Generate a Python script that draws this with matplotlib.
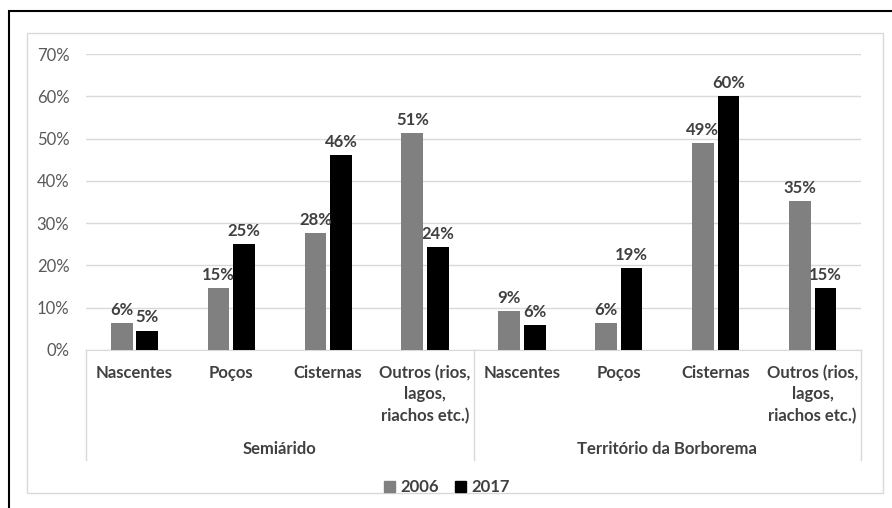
import matplotlib.pyplot as plt
import matplotlib.patches as mpatches
from matplotlib.lines import Line2D
import numpy as np

plt.rcParams['font.family'] = ['Lato', 'DejaVu Sans']

groups = ['Semiárido', 'Território da Borborema']
categories = ['Nascentes', 'Poços', 'Cisternas', 'Outros (rios,\nlagos,\nriachos etc.)']
series_names = ['2006', '2017']
values_2006 = [6.3, 14.6, 27.6, 51.4, 9.2, 6.4, 49.0, 35.3]
values_2017 = [4.6, 25.0, 46.0, 24.3, 5.9, 19.4, 60.0, 14.7]
labels_2006 = ['6%', '15%', '28%', '51%', '9%', '6%', '49%', '35%']
labels_2017 = ['5%', '25%', '46%', '24%', '6%', '19%', '60%', '15%']
colors = ['#808080', '#000000']

W, H = 892, 508
fig = plt.figure(figsize=(W / 100, H / 100), dpi=100)

# outer frame and chart area frame
fig.patches.append(mpatches.Rectangle((9 / W, -0.1), 1, 1.1 - 11 / H, transform=fig.transFigure,
                                      fill=False, edgecolor='black', linewidth=1.5))
fig.patches.append(mpatches.Rectangle((27 / W, 1 - 493 / H), (883 - 27) / W, (493 - 33) / H,
                                      transform=fig.transFigure, fill=False,
                                      edgecolor='#d9d9d9', linewidth=1))

ax = fig.add_axes([86 / W, 1 - 350 / H, 775 / W, 296 / H])

n = len(values_2006)
x = np.arange(n)
w = 0.224
off = 0.132
b1 = ax.bar(x - off, np.array(values_2006) / 100, w, color=colors[0], zorder=3)
b2 = ax.bar(x + off, np.array(values_2017) / 100, w, color=colors[1], zorder=3)

for bars, labs in ((b1, labels_2006), (b2, labels_2017)):
    for b, t in zip(bars, labs):
        ax.text(b.get_x() + b.get_width() / 2, b.get_height() + 0.012, t,
                ha='center', va='bottom', fontsize=12, fontweight='bold', color='#404040')

ax.set_xlim(-0.5, n - 0.5)
ax.set_ylim(0, 0.7)
ax.set_yticks(np.arange(0, 0.71, 0.1))
ax.set_yticklabels([f'{int(round(v * 100))}%' for v in np.arange(0, 0.71, 0.1)],
                   fontsize=12, color='#595959')
ax.tick_params(axis='y', length=0, pad=12)
ax.set_xticks([])
ax.grid(axis='y', color='#d9d9d9', linewidth=1, zorder=0)
for s in ['top', 'right', 'left']:
    ax.spines[s].set_visible(False)
ax.spines['bottom'].set_color('#d9d9d9')

trans = ax.get_xaxis_transform()
for i in range(n):
    ax.text(x[i], -0.05, categories[i % 4], transform=trans, ha='center', va='top',
            fontsize=12, fontweight='bold', color='#404040', linespacing=1.4)
for g, name in enumerate(groups):
    ax.text(g * 4 + 1.5, -0.334, name, transform=trans, ha='center', va='center',
            fontsize=12, fontweight='bold', color='#404040')
for xs in [-0.5, 3.5, 7.5]:
    ax.add_line(Line2D([xs, xs], [0, -0.372], transform=trans, color='#d9d9d9',
                       linewidth=1, clip_on=False))

handles = [mpatches.Patch(color=c, label=s) for c, s in zip(colors, series_names)]
leg = fig.legend(handles=handles, loc='center', bbox_to_anchor=(447 / W, 1 - 487 / H),
                 ncol=2, frameon=False, fontsize=12, handlelength=0.65, handleheight=0.65,
                 handletextpad=0.3, columnspacing=1.0)
for t in leg.get_texts():
    t.set_fontweight('bold')
    t.set_color('#404040')

fig.savefig('out.png', dpi=100)
